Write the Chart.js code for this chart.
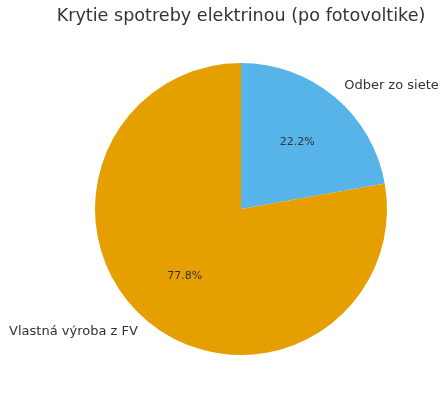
<!DOCTYPE html>
<html>
<head>
<meta charset="utf-8">
<script src="https://cdn.jsdelivr.net/npm/chart.js@4"></script>
<style>
  html, body { margin: 0; padding: 0; background: #fff; }
  #wrap { width: 448px; height: 400px; }
</style>
</head>
<body>
<div id="wrap"><canvas id="myChart" width="448" height="400"></canvas></div>
<script>
// Dáta grafu
const nazov = 'Krytie spotreby elektrinou (po fotovoltike)';
const kategorie = ['Odber zo siete', 'Vlastná výroba z FV'];
const podiely = [22.2, 77.8];
const farby = ['#56B4E9', '#E69F00'];

// popisky mimo koláča a percentá vo vnútri (ako v matplotlib)
const popiskyPlugin = {
  id: 'popisky',
  afterDraw(chart) {
    const ctx = chart.ctx;
    const meta = chart.getDatasetMeta(0);
    const spolu = podiely.reduce((a, b) => a + b, 0);
    ctx.save();
    ctx.fillStyle = '#333333';
    ctx.textBaseline = 'middle';

    // nadpis
    ctx.font = '17.6px "DejaVu Sans"';
    ctx.textAlign = 'center';
    ctx.fillText(nazov, meta.data[0].x, 16);

    meta.data.forEach((arc, i) => {
      const stred = (arc.startAngle + arc.endAngle) / 2;
      const r = arc.outerRadius;
      const cx = Math.cos(stred), sy = Math.sin(stred);

      // kategória
      ctx.font = '13px "DejaVu Sans"';
      ctx.textAlign = cx >= 0 ? 'left' : 'right';
      ctx.fillText(kategorie[i], arc.x + 1.1 * r * cx, arc.y + 1.1 * r * sy);

      // percento
      ctx.font = '11px "DejaVu Sans"';
      ctx.textAlign = 'center';
      const pct = (podiely[i] / spolu * 100).toFixed(1) + '%';
      ctx.fillText(pct, arc.x + 0.6 * r * cx, arc.y + 0.6 * r * sy);
    });
    ctx.restore();
  }
};

new Chart(document.getElementById('myChart').getContext('2d'), {
  type: 'pie',
  data: {
    labels: kategorie,
    datasets: [{
      data: podiely,
      backgroundColor: farby,
      borderWidth: 0
    }]
  },
  options: {
    responsive: false,
    animation: false,
    layout: {
      padding: { left: 95, right: 61, top: 63, bottom: 45 }
    },
    plugins: {
      legend: { display: false },
      tooltip: { enabled: false }
    }
  },
  plugins: [popiskyPlugin]
});
</script>
</body>
</html>
